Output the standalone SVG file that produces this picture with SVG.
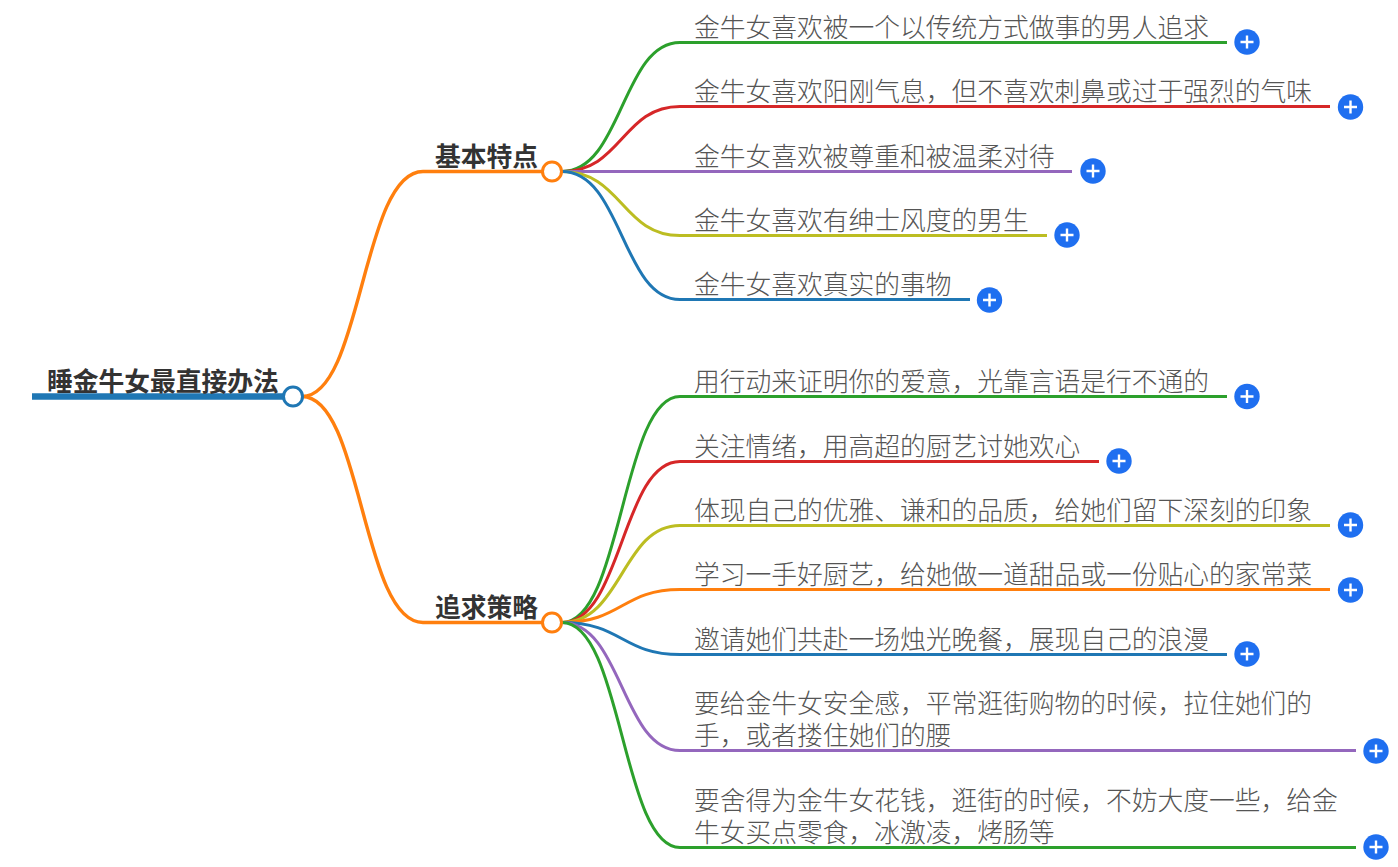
<svg xmlns="http://www.w3.org/2000/svg" width="1398" height="867" viewBox="0 0 1398 867">
<style>
text{font-family:"Noto Sans CJK SC","Noto Sans",sans-serif;font-size:25.76px;fill:#555;font-weight:200}
.b{font-weight:700;fill:#333}
.l{fill:none;stroke-width:3}
.g{stroke:#2ca02c}.r{stroke:#d62728}.p{stroke:#9467bd}.y{stroke:#bcbd22}.t{stroke:#1f77b4}.o{stroke:#ff7f0e}
.h{fill:#fff;stroke-width:3}
.c{fill:#1f6ff0}
.m{stroke:#fff;stroke-width:2.4;fill:none}
</style>
<defs><g id="plus"><circle class="c" r="12.7"/><path class="m" d="M-6.5 0H6.5M0-6.5V6.5"/></g></defs>
<g id="connectors">
<path class="l o" style="stroke-width:3.400" d="M302 396.500C362 396.500 362 171.500 423 171.500H542"/>
<path class="l o" style="stroke-width:3.400" d="M302 396.500C362 396.500 362 622.500 423 622.500H542"/>
<path class="l g" d="M562 171.500C622 171.500 622 42.500 680 42.500H1227"/>
<path class="l r" d="M562 171.500C622 171.500 622 106.500 680 106.500H1330"/>
<path class="l p" d="M562 171.500H1072"/>
<path class="l y" d="M562 171.500C622 171.500 622 235.500 680 235.500H1047"/>
<path class="l t" d="M562 171.500C622 171.500 622 299.500 680 299.500H970"/>
<path class="l g" d="M562 622.500C622 622.500 622 396.500 680 396.500H1227"/>
<path class="l r" d="M562 622.500C622 622.500 622 461.500 680 461.500H1099"/>
<path class="l y" d="M562 622.500C622 622.500 622 525.500 680 525.500H1330"/>
<path class="l o" d="M562 622.500C622 622.500 622 589.500 680 589.500H1330"/>
<path class="l t" d="M562 622.500C622 622.500 622 654.500 680 654.500H1227"/>
<path class="l p" d="M562 622.500C622 622.500 622 750.500 680 750.500H1356"/>
<path class="l g" d="M562 622.500C622 622.500 622 847.500 680 847.500H1356"/>
</g>
<g id="root"><path d="M32 396.500H283" stroke="#1f77b4" stroke-width="6.500" fill="none"/><text class="b" x="47" y="391">睡金牛女最直接办法</text><circle class="h t" cx="293" cy="396.500" r="9.500"/></g>
<g id="n1"><text class="b" x="435" y="166">基本特点</text><circle class="h o" cx="552" cy="171.500" r="9.500"/></g>
<g id="n2"><text class="b" x="435" y="617">追求策略</text><circle class="h o" cx="552" cy="622.500" r="9.500"/></g>
<g id="a1"><text x="694" y="37">金牛女喜欢被一个以传统方式做事的男人追求</text><use href="#plus" x="1247" y="42"/></g>
<g id="a2"><text x="694" y="101">金牛女喜欢阳刚气息，但不喜欢刺鼻或过于强烈的气味</text><use href="#plus" x="1350.500" y="107"/></g>
<g id="a3"><text x="694" y="166">金牛女喜欢被尊重和被温柔对待</text><use href="#plus" x="1093" y="171"/></g>
<g id="a4"><text x="694" y="230">金牛女喜欢有绅士风度的男生</text><use href="#plus" x="1067" y="235"/></g>
<g id="a5"><text x="694" y="294">金牛女喜欢真实的事物</text><use href="#plus" x="989.500" y="300"/></g>
<g id="b1"><text x="694" y="391">用行动来证明你的爱意，光靠言语是行不通的</text><use href="#plus" x="1247" y="396.500"/></g>
<g id="b2"><text x="694" y="456">关注情绪，用高超的厨艺讨她欢心</text><use href="#plus" x="1119" y="461"/></g>
<g id="b3"><text x="694" y="520">体现自己的优雅、谦和的品质，给她们留下深刻的印象</text><use href="#plus" x="1350.500" y="525"/></g>
<g id="b4"><text x="694" y="584">学习一手好厨艺，给她做一道甜品或一份贴心的家常菜</text><use href="#plus" x="1350.500" y="590"/></g>
<g id="b5"><text x="694" y="649">邀请她们共赴一场烛光晚餐，展现自己的浪漫</text><use href="#plus" x="1247" y="654"/></g>
<g id="b6"><text x="694" y="713">要给金牛女安全感，平常逛街购物的时候，拉住她们的<tspan x="694" y="745">手，或者搂住她们的腰</tspan></text><use href="#plus" x="1376" y="751"/></g>
<g id="b7"><text x="694" y="810">要舍得为金牛女花钱，逛街的时候，不妨大度一些，给金<tspan x="694" y="842">牛女买点零食，冰激凌，烤肠等</tspan></text><use href="#plus" x="1376" y="847"/></g>
</svg>
